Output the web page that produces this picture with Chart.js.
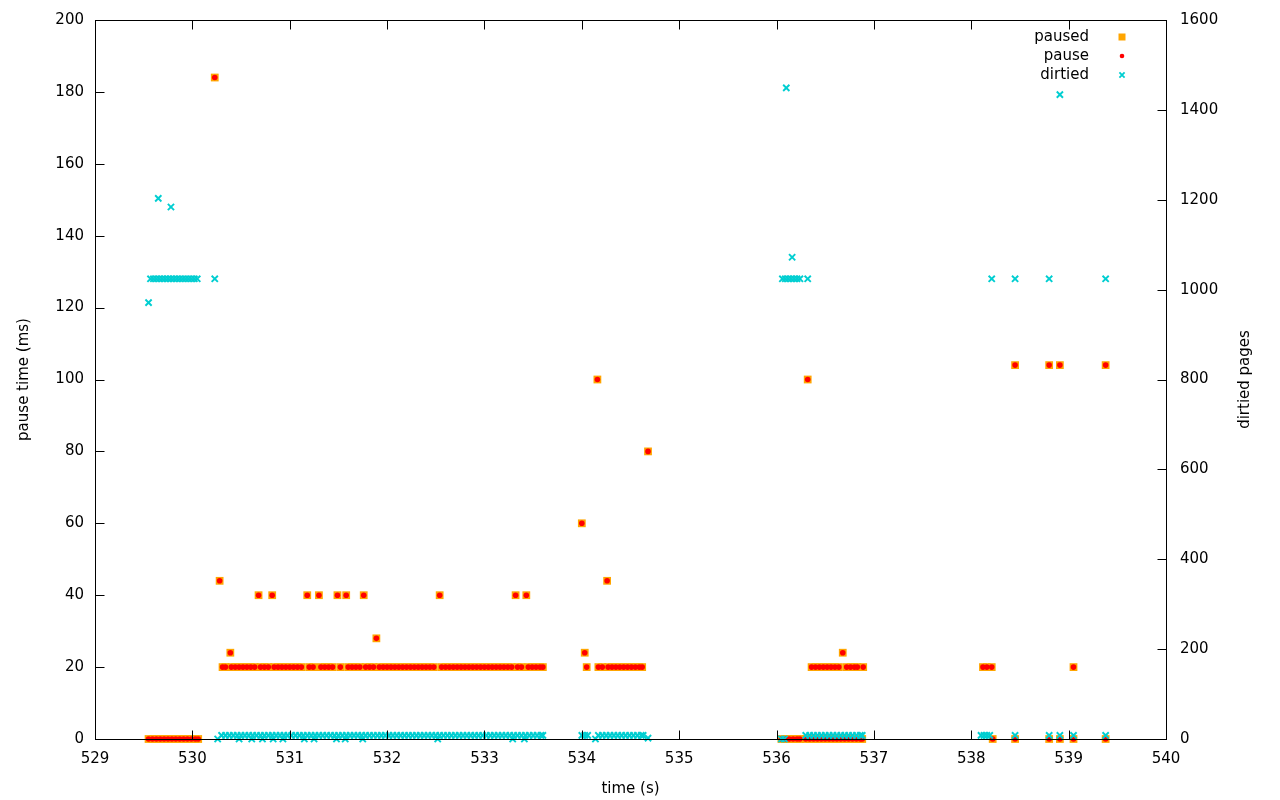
<!DOCTYPE html>
<html>
<head>
<meta charset="utf-8">
<title>pause time / dirtied pages</title>
<script src="https://cdn.jsdelivr.net/npm/chart.js@4/dist/chart.umd.min.js"></script>
<style>
  html, body { margin: 0; padding: 0; background: #fff; }
  canvas { display: block; }
</style>
</head>
<body>
<canvas id="chart" width="1280" height="800"></canvas>
<script>
// pause time (ms) per sample, same values for "paused" and "pause"
var pauseTimes = [
  529.55, 529.59, 529.63, 529.67, 529.71, 529.75, 529.79, 529.83, 529.87, 529.91, 529.95, 529.99, 530.03, 530.06,
  530.23, 530.28, 530.31, 530.34, 530.39, 530.40, 530.44, 530.48, 530.52, 530.56, 530.60, 530.64, 530.68, 530.70,
  530.74, 530.78, 530.82, 530.84, 530.88, 530.92, 530.96, 531.00, 531.04, 531.08, 531.12, 531.18, 531.20, 531.24,
  531.30, 531.32, 531.36, 531.40, 531.44, 531.49, 531.52, 531.58, 531.60, 531.64, 531.68, 531.72, 531.76, 531.78,
  531.82, 531.86, 531.89, 531.92, 531.96, 532.00, 532.04, 532.08, 532.12, 532.16, 532.20, 532.24, 532.28, 532.32,
  532.36, 532.40, 532.44, 532.48, 532.54, 532.56, 532.60, 532.64, 532.68, 532.72, 532.76, 532.80, 532.84, 532.88,
  532.92, 532.96, 533.00, 533.04, 533.08, 533.12, 533.16, 533.20, 533.24, 533.28, 533.32, 533.34, 533.38, 533.43,
  533.45, 533.49, 533.53, 533.57, 533.60,
  534.00, 534.03, 534.05, 534.16, 534.17, 534.21, 534.26, 534.27, 534.31, 534.35, 534.39, 534.43, 534.47, 534.51,
  534.55, 534.59, 534.62, 534.68,
  536.05, 536.09, 536.13, 536.17, 536.21, 536.24, 536.32,
  536.30, 536.34, 536.38, 536.42, 536.46, 536.50, 536.54, 536.58, 536.62, 536.66, 536.70, 536.74, 536.78, 536.82,
  536.86, 536.88,
  536.36, 536.40, 536.44, 536.48, 536.52, 536.56, 536.60, 536.64, 536.68, 536.72, 536.76, 536.80, 536.83, 536.89,
  538.12, 538.16, 538.21, 538.22, 538.45, 538.45, 538.80, 538.80, 538.91, 538.91, 539.05, 539.05, 539.38, 539.38
];
var pauseMs = [
  0, 0, 0, 0, 0, 0, 0, 0, 0, 0, 0, 0, 0, 0,
  184, 44, 20, 20, 24, 20, 20, 20, 20, 20, 20, 20, 40, 20,
  20, 20, 40, 20, 20, 20, 20, 20, 20, 20, 20, 40, 20, 20,
  40, 20, 20, 20, 20, 40, 20, 40, 20, 20, 20, 20, 40, 20,
  20, 20, 28, 20, 20, 20, 20, 20, 20, 20, 20, 20, 20, 20,
  20, 20, 20, 20, 40, 20, 20, 20, 20, 20, 20, 20, 20, 20,
  20, 20, 20, 20, 20, 20, 20, 20, 20, 20, 40, 20, 20, 40,
  20, 20, 20, 20, 20,
  60, 24, 20, 100, 20, 20, 44, 20, 20, 20, 20, 20, 20, 20,
  20, 20, 20, 80,
  0, 0, 0, 0, 0, 0, 100,
  0, 0, 0, 0, 0, 0, 0, 0, 0, 0, 0, 0, 0, 0,
  0, 0,
  20, 20, 20, 20, 20, 20, 20, 20, 24, 20, 20, 20, 20, 20,
  20, 20, 20, 0, 104, 0, 104, 0, 104, 0, 20, 0, 104, 0
];

// dirtied pages per sample (right axis)
var dirtiedTimes = [
  529.55, 529.57, 529.60, 529.63, 529.66, 529.69, 529.72, 529.75, 529.78, 529.81, 529.84, 529.87, 529.90, 529.93,
  529.96, 529.99, 530.02, 530.05, 529.65, 529.78, 530.23,
  530.26, 530.30, 530.34, 530.38, 530.42, 530.46, 530.48, 530.50, 530.54, 530.58, 530.61, 530.62, 530.66, 530.70,
  530.72, 530.74, 530.78, 530.82, 530.83, 530.86, 530.90, 530.93, 530.94, 530.98, 531.02, 531.06, 531.10, 531.14,
  531.15, 531.18, 531.22, 531.25, 531.26, 531.30, 531.34, 531.38, 531.42, 531.46, 531.48, 531.50, 531.54, 531.57,
  531.58, 531.62, 531.66, 531.70, 531.74, 531.75, 531.78, 531.82, 531.86, 531.90, 531.94, 531.98, 532.02, 532.06,
  532.10, 532.14, 532.18, 532.22, 532.26, 532.30, 532.34, 532.38, 532.42, 532.46, 532.50, 532.52, 532.54, 532.58,
  532.62, 532.66, 532.70, 532.74, 532.78, 532.82, 532.86, 532.90, 532.94, 532.98, 533.02, 533.06, 533.10, 533.14,
  533.18, 533.22, 533.26, 533.29, 533.30, 533.34, 533.38, 533.41, 533.42, 533.46, 533.50, 533.54, 533.58, 533.60,
  534.00, 534.03, 534.06, 534.14, 534.17, 534.21, 534.25, 534.29, 534.33, 534.37, 534.41, 534.45, 534.49, 534.53,
  534.57, 534.61, 534.63, 534.68,
  536.06, 536.09, 536.12, 536.15, 536.18, 536.21, 536.24, 536.10, 536.16, 536.32, 536.05, 536.08,
  536.30, 536.34, 536.38, 536.42, 536.46, 536.50, 536.54, 536.58, 536.62, 536.66, 536.70, 536.74, 536.78, 536.82,
  536.86, 536.88,
  538.21, 538.45, 538.80, 539.38, 538.91,
  538.10, 538.13, 538.16, 538.19, 538.45, 538.80, 538.91, 539.05, 539.38
];
var dirtiedPages = [
  971, 1024, 1024, 1024, 1024, 1024, 1024, 1024, 1024, 1024, 1024, 1024, 1024, 1024,
  1024, 1024, 1024, 1024, 1203, 1184, 1024,
  0, 8, 8, 8, 8, 8, 0, 8, 8, 8, 0, 8, 8, 8,
  0, 8, 8, 8, 0, 8, 8, 0, 8, 8, 8, 8, 8, 8,
  0, 8, 8, 0, 8, 8, 8, 8, 8, 8, 0, 8, 8, 0,
  8, 8, 8, 8, 8, 0, 8, 8, 8, 8, 8, 8, 8, 8,
  8, 8, 8, 8, 8, 8, 8, 8, 8, 8, 8, 0, 8, 8,
  8, 8, 8, 8, 8, 8, 8, 8, 8, 8, 8, 8, 8, 8,
  8, 8, 8, 0, 8, 8, 8, 0, 8, 8, 8, 8, 8, 8,
  8, 8, 8, 0, 8, 8, 8, 8, 8, 8, 8, 8, 8, 8,
  8, 8, 8, 2,
  1024, 1024, 1024, 1024, 1024, 1024, 1024, 1449, 1072, 1024, 0, 0,
  8, 8, 8, 8, 8, 8, 8, 8, 8, 8, 8, 8, 8, 8,
  8, 8,
  1024, 1024, 1024, 1024, 1434,
  8, 8, 8, 8, 8, 8, 8, 8, 8
];

var timeTicks = [529, 530, 531, 532, 533, 534, 535, 536, 537, 538, 539, 540];
var pauseTicks = [0, 20, 40, 60, 80, 100, 120, 140, 160, 180, 200];
var pageTicks = [0, 200, 400, 600, 800, 1000, 1200, 1400, 1600];
var seriesNames = ['paused', 'pause', 'dirtied'];

var ORANGE = '#ffa500';
var RED = '#ff0000';
var CYAN = '#00ced1';
var FONT = "'DejaVu Sans', sans-serif";

function toPoints(xs, ys) {
  return xs.map(function(x, i) { return { x: x, y: ys[i] }; });
}

function useTicks(list) {
  return function(scale) {
    scale.ticks = list.map(function(v) { return { value: v }; });
  };
}

function plainLabel(v) { return String(v); }

// fixed side widths so the plot box sits where gnuplot put it
function fixWidth(w) {
  return function(s) {
    s.width = w;
    s.paddingTop = 0;
    s.paddingBottom = 0;
  };
}

function drawMarker(ctx, kind, x, y) {
  if (kind === 0) {
    ctx.fillStyle = ORANGE;
    ctx.fillRect(x - 3.5, y - 3.5, 7, 7);
  } else if (kind === 1) {
    ctx.fillStyle = RED;
    ctx.beginPath();
    ctx.arc(x, y, 2.3, 0, Math.PI * 2);
    ctx.fill();
  } else {
    ctx.strokeStyle = CYAN;
    ctx.lineWidth = 1.8;
    ctx.beginPath();
    ctx.moveTo(x - 2.6, y - 2.6); ctx.lineTo(x + 2.6, y + 2.6);
    ctx.moveTo(x - 2.6, y + 2.6); ctx.lineTo(x + 2.6, y - 2.6);
    ctx.stroke();
  }
}

// gnuplot-like box, inward ticks, key and y2 label
var framePlugin = {
  id: 'frame',
  afterDatasetsDraw: function(chart) {
    var ctx = chart.ctx;
    var a = chart.chartArea;
    var L = Math.round(a.left) + 0.5, R = Math.round(a.right) + 0.5;
    var T = Math.round(a.top) + 0.5, B = Math.round(a.bottom) + 0.5;
    var tick = 9;
    ctx.save();
    ctx.strokeStyle = '#000';
    ctx.lineWidth = 1;
    ctx.strokeRect(L, T, R - L, B - T);
    ctx.beginPath();
    chart.scales.x.ticks.forEach(function(t) {
      var px = Math.round(chart.scales.x.getPixelForValue(t.value)) + 0.5;
      ctx.moveTo(px, B); ctx.lineTo(px, B - tick);
      ctx.moveTo(px, T); ctx.lineTo(px, T + tick);
    });
    chart.scales.y.ticks.forEach(function(t) {
      var py = Math.round(chart.scales.y.getPixelForValue(t.value)) + 0.5;
      ctx.moveTo(L, py); ctx.lineTo(L + tick, py);
    });
    chart.scales.y2.ticks.forEach(function(t) {
      var py = Math.round(chart.scales.y2.getPixelForValue(t.value)) + 0.5;
      ctx.moveTo(R, py); ctx.lineTo(R - tick, py);
    });
    ctx.stroke();

    // key
    ctx.font = '15px ' + FONT;
    ctx.textAlign = 'right';
    ctx.textBaseline = 'middle';
    seriesNames.forEach(function(name, i) {
      var y = 37 + i * 19;
      ctx.fillStyle = '#000';
      ctx.fillText(name, 1089, y);
      drawMarker(ctx, i, 1122, y);
    });

    // right axis title, read bottom to top
    ctx.fillStyle = '#000';
    ctx.translate(1245, (a.top + a.bottom) / 2);
    ctx.rotate(-Math.PI / 2);
    ctx.textAlign = 'center';
    ctx.fillText('dirtied pages', 0, 0);
    ctx.restore();
  }
};

Chart.defaults.font.family = FONT;
Chart.defaults.font.size = 15;
Chart.defaults.color = '#000';

var ctx = document.getElementById('chart').getContext('2d');
var chart = new Chart(ctx, {
  type: 'scatter',
  data: {
    datasets: [{
      label: seriesNames[0],
      data: toPoints(pauseTimes, pauseMs),
      yAxisID: 'y',
      pointStyle: 'rect',
      pointRadius: 5.5,
      pointBackgroundColor: ORANGE,
      pointBorderWidth: 0,
      clip: false,
      order: 3
    }, {
      label: seriesNames[1],
      data: toPoints(pauseTimes, pauseMs),
      yAxisID: 'y',
      pointStyle: 'circle',
      pointRadius: 2.8,
      pointBackgroundColor: RED,
      pointBorderWidth: 0,
      clip: false,
      order: 2
    }, {
      label: seriesNames[2],
      data: toPoints(dirtiedTimes, dirtiedPages),
      yAxisID: 'y2',
      pointStyle: 'crossRot',
      pointRadius: 4.4,
      pointBorderColor: CYAN,
      pointBorderWidth: 1.9,
      clip: false,
      order: 1
    }]
  },
  options: {
    responsive: false,
    animation: false,
    events: [],
    layout: { padding: { top: 20, left: 0, right: 0, bottom: 0 } },
    plugins: { legend: { display: false }, tooltip: { enabled: false } },
    scales: {
      x: {
        type: 'linear',
        min: timeTicks[0],
        max: timeTicks[timeTicks.length - 1],
        afterBuildTicks: useTicks(timeTicks),
        afterFit: function(s) { s.height = 61; },
        grid: { display: false, drawTicks: false },
        border: { display: false },
        ticks: { padding: 11, maxRotation: 0, callback: plainLabel },
        title: { display: true, text: 'time (s)', padding: { top: 0, bottom: 2 } }
      },
      y: {
        type: 'linear',
        position: 'left',
        min: pauseTicks[0],
        max: pauseTicks[pauseTicks.length - 1],
        afterBuildTicks: useTicks(pauseTicks),
        afterFit: fixWidth(95),
        grid: { display: false, drawTicks: false },
        border: { display: false },
        ticks: { padding: 11, callback: plainLabel },
        title: { display: true, text: 'pause time (ms)', padding: { top: 15, bottom: 0 } }
      },
      y2: {
        type: 'linear',
        position: 'right',
        min: pageTicks[0],
        max: pageTicks[pageTicks.length - 1],
        afterBuildTicks: useTicks(pageTicks),
        afterFit: fixWidth(114),
        grid: { display: false, drawTicks: false },
        border: { display: false },
        ticks: { padding: 14, callback: plainLabel }
      }
    }
  },
  plugins: [framePlugin]
});
</script>
</body>
</html>
